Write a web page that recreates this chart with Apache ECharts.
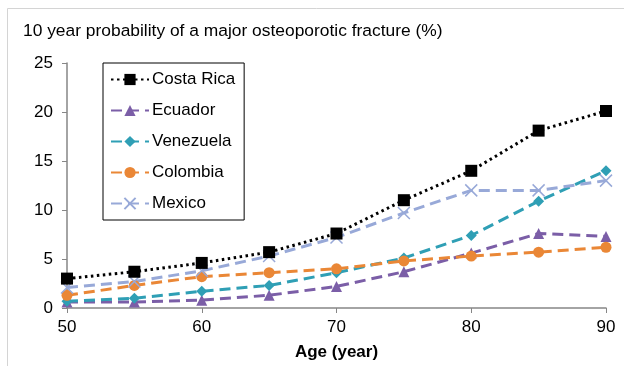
<!DOCTYPE html>
<html>
<head>
<meta charset="utf-8">
<script src="https://cdn.jsdelivr.net/npm/echarts@6/dist/echarts.min.js"></script>
<style>html,body{margin:0;padding:0;background:#fff}#c{width:624px;height:366px}</style>
</head>
<body>
<div id="c"></div>
<script>
const ages = [50, 55, 60, 65, 70, 75, 80, 85, 90];
const costaRica = [3.0, 3.7, 4.6, 5.7, 7.6, 11.0, 14.0, 18.1, 20.1];
const ecuador = [0.6, 0.6, 0.8, 1.3, 2.2, 3.7, 5.6, 7.6, 7.3];
const venezuela = [0.7, 1.0, 1.7, 2.3, 3.6, 5.1, 7.4, 10.9, 14.0];
const colombia = [1.3, 2.3, 3.2, 3.6, 4.0, 4.8, 5.3, 5.7, 6.2];
const mexico = [2.1, 2.7, 3.8, 5.3, 7.2, 9.7, 12.0, 12.0, 13.0];
const xTicks = [50, 60, 70, 80, 90];
const yTicks = [0, 5, 10, 15, 20, 25];

const pairs = arr => ages.map((a, i) => [a, arr[i]]);
const font = 'Liberation Sans, Arial, sans-serif';

const chart = echarts.init(document.getElementById('c'), null, {renderer: 'canvas'});
chart.setOption({
  animation: false,
  backgroundColor: '#fff',
  graphic: [{
    type: 'rect', shape: {x: 7.5, y: 8.5, width: 700, height: 500},
    style: {fill: 'none', stroke: '#d4d4d4', lineWidth: 1}, silent: true, z: -1
  }],
  title: {
    text: '10 year probability of a major osteoporotic fracture (%)',
    left: 23, top: 23, padding: 0,
    textStyle: {fontFamily: font, fontSize: 17.4, fontWeight: 'normal', color: '#000'}
  },
  grid: {left: 67, right: 18, top: 63, bottom: 53, containLabel: false},
  legend: {
    orient: 'vertical', left: 103, top: 63,
    padding: [8, 9, 8, 7],
    borderColor: '#000', borderWidth: 1, backgroundColor: '#fff',
    itemWidth: 38, itemHeight: 14, itemGap: 14,
    textStyle: {fontFamily: font, fontSize: 17, lineHeight: 16, color: '#000', padding: [0, 0, 0, -2]},
    data: ['Costa Rica', 'Ecuador', 'Venezuela', 'Colombia', 'Mexico']
  },
  xAxis: {
    type: 'value', min: 50, max: 90, interval: 10,
    name: 'Age (year)', nameLocation: 'middle', nameGap: 36,
    nameTextStyle: {fontFamily: font, fontSize: 17, fontWeight: 'bold', color: '#000'},
    axisLine: {lineStyle: {color: '#868686', width: 1.5}},
    axisTick: {show: true, length: 5, lineStyle: {color: '#868686'}},
    axisLabel: {fontFamily: font, fontSize: 17, color: '#000', margin: 11,
      customValues: xTicks},
    splitLine: {show: false}
  },
  yAxis: {
    type: 'value', min: 0, max: 25, interval: 5,
    axisLine: {show: true, lineStyle: {color: '#868686', width: 1.5}},
    axisTick: {show: true, length: 5, lineStyle: {color: '#868686'}},
    axisLabel: {fontFamily: font, fontSize: 17, color: '#000', margin: 14},
    splitLine: {show: false}
  },
  series: [
    {
      name: 'Costa Rica', type: 'line', data: pairs(costaRica), z: 5,
      symbol: 'rect', symbolSize: 12,
      lineStyle: {color: '#000', width: 3, type: [2.5, 3.5]},
      itemStyle: {color: '#000'}
    },
    {
      name: 'Ecuador', type: 'line', data: pairs(ecuador),
      symbol: 'triangle', symbolSize: 11,
      lineStyle: {color: '#7b5ea7', width: 3, type: [11, 6]},
      itemStyle: {color: '#7b5ea7'}
    },
    {
      name: 'Venezuela', type: 'line', data: pairs(venezuela),
      symbol: 'diamond', symbolSize: 11,
      lineStyle: {color: '#2f9fb5', width: 3, type: [11, 6]},
      itemStyle: {color: '#2f9fb5'}
    },
    {
      name: 'Colombia', type: 'line', data: pairs(colombia),
      symbol: 'circle', symbolSize: 11,
      lineStyle: {color: '#ea8736', width: 3, type: [11, 6]},
      itemStyle: {color: '#ea8736'}
    },
    {
      name: 'Mexico', type: 'line', data: pairs(mexico),
      symbol: 'path://M0,0L10,10M10,0L0,10', symbolSize: 12,
      lineStyle: {color: '#98a9d8', width: 3, type: [11, 6]},
      itemStyle: {color: '#98a9d8', borderColor: '#98a9d8', borderWidth: 1.5}
    }
  ]
});
</script>
</body>
</html>
